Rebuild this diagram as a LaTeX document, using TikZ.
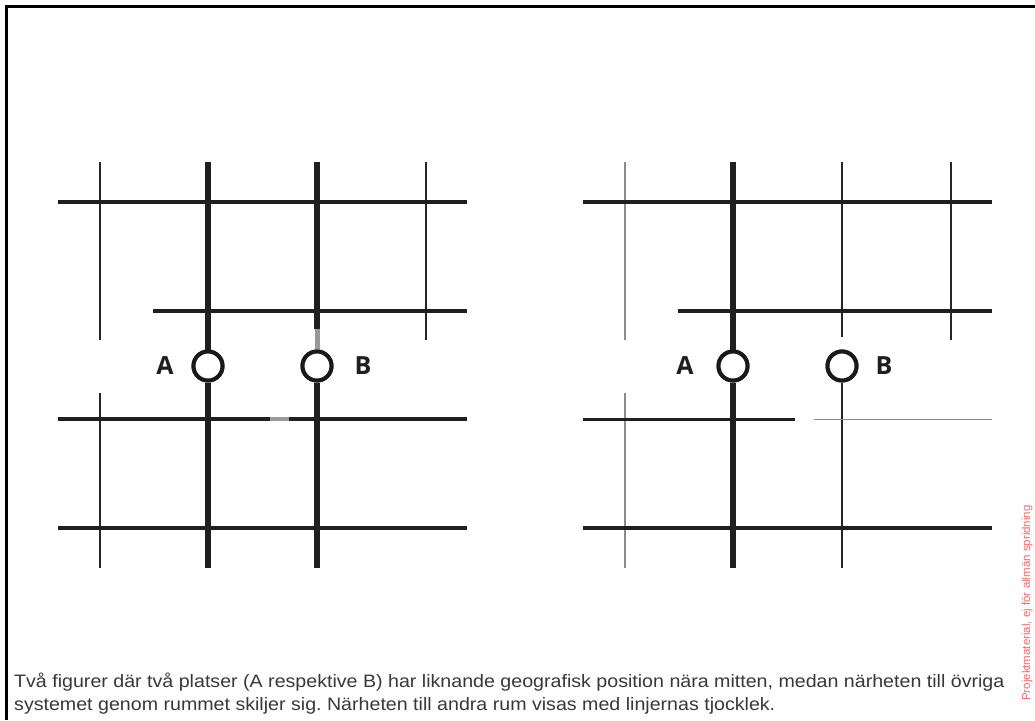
\documentclass[tikz,border=0pt]{standalone}
\usepackage{fontspec}
\setmainfont{Liberation Sans}
\newfontfamily\capfont[FakeStretch=1.09]{Liberation Sans}
\newfontfamily\labfont{Open Sans}
\frenchspacing
\definecolor{capgray}{HTML}{383838}
\definecolor{midgray}{HTML}{999999}
\definecolor{wmred}{HTML}{F26B6B}
\tikzset{
  thickline/.style={line width=5.5pt, black!88},
  midline/.style={line width=4pt, black!88},
  medline/.style={line width=3pt, black!88},
  thinline/.style={line width=1.6pt, black!85},
  faintline/.style={line width=1.4pt, black!45},
  grayseg/.style={line width=5pt, midgray},
  place/.style={circle, draw=black!90, line width=4pt, fill=white, inner sep=0pt, minimum size=29pt},
  lab/.style={font=\labfont\bfseries\fontsize{25}{27}\selectfont, text=black!88, inner sep=0pt},
  captext/.style={font=\capfont\fontsize{18}{20}\selectfont, text=capgray, inner sep=0pt, anchor=base west}
}
\begin{document}
\begin{tikzpicture}[x=1pt,y=-1pt]
\useasboundingbox (0,0) rectangle (1035,720);
\fill[white] (0,0) rectangle (1035,720);
% frame
\draw[line width=3pt, black] (6.5,720) -- (6.5,6.5) -- (1035,6.5);

% ---------- left figure ----------
\node[place] (LA) at (208,366) {};
\node[place] (LB) at (317,366) {};
\node[lab] (LAl) at (165,366) {A};
\node[lab] (LBl) at (363,366) {B};
\coordinate (LAt) at (208,162); \coordinate (LAb) at (208,568);
\coordinate (LBt) at (317,162); \coordinate (LBg) at (317,329); \coordinate (LBb) at (317,568);
\draw[thinline] (100,162) -- (100,340);
\draw[thinline] (100,393) -- (100,568);
\draw[thinline] (426,162) -- (426,340);
\draw[midline] (58,202) -- (467,202);
\draw[midline] (153,311) -- (467,311);
\draw[midline] (58,419) -- (270,419);
\draw[grayseg, line width=4pt] (270,419) -- (289,419);
\draw[midline] (289,419) -- (467,419);
\draw[midline] (58,528) -- (467,528);
\draw[thickline] (LAt) -- (LA.north);
\draw[thickline] (LA.south) -- (LAb);
\draw[thickline] (LBt) -- (LBg);
\draw[grayseg] (LBg) -- (LB.north);
\draw[thickline] (LB.south) -- (LBb);
\node[place] at (LA) {};
\node[place] at (LB) {};

% ---------- right figure ----------
\node[place] (RA) at (733,366) {};
\node[place] (RB) at (842,366) {};
\node[lab] (RAl) at (685,366) {A};
\node[lab] (RBl) at (884,366) {B};
\coordinate (RAt) at (733,162); \coordinate (RAb) at (733,568);
\coordinate (RBt) at (842,162); \coordinate (RBe) at (842,337); \coordinate (RBb) at (842,568);
\draw[faintline] (625,162) -- (625,340);
\draw[faintline] (625,393) -- (625,568);
\draw[thinline] (951,162) -- (951,340);
\draw[thinline] (RBt) -- (RBe);
\draw[thinline] (RB.south) -- (RBb);
\draw[midline] (583,202) -- (992,202);
\draw[midline] (678,311) -- (992,311);
\draw[medline] (583,419) -- (795,419);
\draw[line width=1pt, black!45] (814,419) -- (992,419);
\draw[midline] (583,528) -- (992,528);
\draw[thickline] (RAt) -- (RA.north);
\draw[thickline] (RA.south) -- (RAb);
\node[place] at (RA) {};
\node[place] at (RB) {};

% ---------- caption ----------
\node[captext] (cap1) at (14,687) {Två figurer där två platser (A respektive B) har liknande geografisk position nära mitten, medan närheten till övriga};
\node[captext] (cap2) at (14,710) {systemet genom rummet skiljer sig. Närheten till andra rum visas med linjernas tjocklek.};

% ---------- watermark ----------
\node[rotate=90, anchor=base west, inner sep=0pt, text=wmred, font=\fontsize{11.5}{13}\selectfont] (wm) at (1030,701) {Projektmaterial, ej för allmän spridning};
\end{tikzpicture}
\end{document}
